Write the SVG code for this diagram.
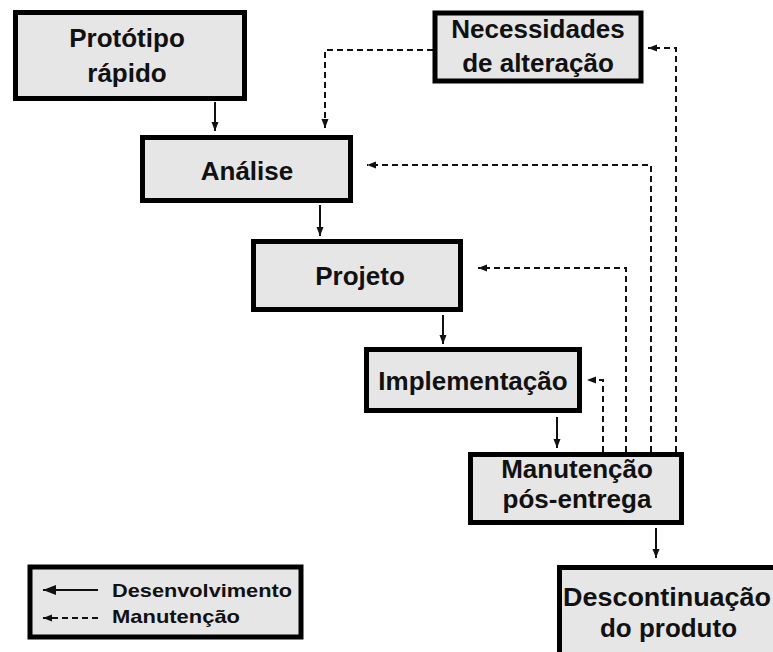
<svg xmlns="http://www.w3.org/2000/svg" width="773" height="652" viewBox="0 0 773 652">
<style>
.box{fill:#e6e6e6;stroke:#000;stroke-width:5}
.lbl{font-family:"Liberation Sans",Arial,sans-serif;font-weight:bold;font-size:26px;fill:#111;text-anchor:middle}
.leg{font-family:"Liberation Sans",Arial,sans-serif;font-weight:bold;font-size:19px;fill:#111}
.solid{fill:none;stroke:#111;stroke-width:2}
.dash{fill:none;stroke:#111;stroke-width:2;stroke-dasharray:6 4}
</style>
<defs>
<marker id="ah" markerUnits="userSpaceOnUse" markerWidth="10" markerHeight="10" viewBox="0 0 10 10" refX="9" refY="5" orient="auto">
<path d="M0,1.5 L9,5 L0,8.5 Z" fill="#111"/>
</marker>
<marker id="ahL" markerUnits="userSpaceOnUse" markerWidth="14" markerHeight="14" viewBox="0 0 14 14" refX="13" refY="7" orient="auto">
<path d="M0,2 L13,7 L0,12 Z" fill="#111"/>
</marker>
</defs>
<rect width="773" height="652" fill="#fff"/>
<g id="connectors">
<line class="solid" x1="215" y1="102" x2="215" y2="131" marker-end="url(#ah)"/>
<line class="solid" x1="320" y1="205" x2="320" y2="236" marker-end="url(#ah)"/>
<line class="solid" x1="443" y1="315" x2="443" y2="344" marker-end="url(#ah)"/>
<line class="solid" x1="557" y1="417" x2="557" y2="448" marker-end="url(#ah)"/>
<line class="solid" x1="656" y1="528" x2="656" y2="558" marker-end="url(#ah)"/>
<polyline class="dash" points="433,50 325,50 325,128" marker-end="url(#ah)"/>
<polyline class="dash" points="676,452 676,48 648,48" marker-end="url(#ah)"/>
<polyline class="dash" points="651,452 651,165 367,165" marker-end="url(#ah)"/>
<polyline class="dash" points="626,452 626,268 478,268" marker-end="url(#ah)"/>
<polyline class="dash" points="603,452 603,380 587,380" marker-end="url(#ah)"/>
</g>
<g id="prototipo">
<rect class="box" x="15.5" y="12.5" width="229" height="86" stroke-width="6"/>
<text class="lbl" x="127" y="47">Protótipo</text>
<text class="lbl" x="127" y="82">rápido</text>
</g>
<g id="analise">
<rect class="box" x="142.5" y="137.5" width="208" height="63"/>
<text class="lbl" x="247" y="180">Análise</text>
</g>
<g id="necessidades">
<rect class="box" x="435" y="13" width="206" height="68" stroke-width="4"/>
<text class="lbl" x="538" y="38">Necessidades</text>
<text class="lbl" x="538" y="72">de alteração</text>
</g>
<g id="projeto">
<rect class="box" x="253.5" y="241.5" width="207" height="68"/>
<text class="lbl" x="360" y="285">Projeto</text>
</g>
<g id="implementacao">
<rect class="box" x="366.5" y="349.5" width="213" height="61"/>
<text class="lbl" x="473" y="390">Implementação</text>
</g>
<g id="manutencao">
<rect class="box" x="470.5" y="454.5" width="211" height="68"/>
<text class="lbl" x="577" y="478">Manutenção</text>
<text class="lbl" x="577" y="508">pós-entrega</text>
</g>
<g id="descontinuacao">
<rect class="box" x="559.5" y="567.5" width="230" height="100"/>
<text class="lbl" x="563" y="606" style="text-anchor:start" font-size="24" textLength="208" lengthAdjust="spacingAndGlyphs">Descontinuação</text>
<text class="lbl" x="600" y="637" style="text-anchor:start" font-size="24" textLength="137" lengthAdjust="spacingAndGlyphs">do produto</text>
</g>
<g id="legenda">
<rect class="box" x="30" y="567" width="271" height="70" stroke-width="4"/>
<line class="solid" x1="98" y1="590" x2="43" y2="590" stroke-width="3" marker-end="url(#ahL)"/>
<line class="dash" x1="98" y1="618" x2="43" y2="618" marker-end="url(#ah)"/>
<text class="leg" x="112" y="597" textLength="180" lengthAdjust="spacingAndGlyphs">Desenvolvimento</text>
<text class="leg" x="112" y="623" textLength="128" lengthAdjust="spacingAndGlyphs">Manutenção</text>
</g>
</svg>
